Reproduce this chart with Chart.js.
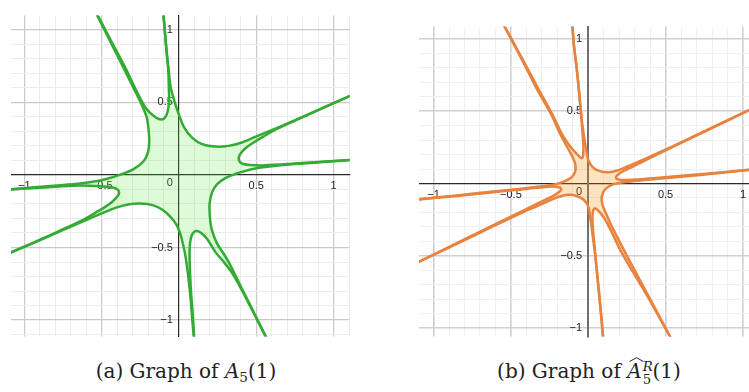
<!DOCTYPE html>
<html>
<head>
<meta charset="utf-8">
<script src="https://cdn.jsdelivr.net/npm/chart.js@4.4.1/dist/chart.umd.min.js"></script>
<style>
  html, body { margin: 0; padding: 0; background: #fff; }
  body { width: 749px; height: 392px; position: relative; overflow: hidden; }
  canvas { position: absolute; }
  #plotA { left: 11px; top: 4px; }
  #plotB { left: 419px; top: 15px; }
  .cap { position: absolute; top: 357px; height: 28px; line-height: 28px; text-align: center;
         font-family: "DejaVu Serif", serif; font-size: 20px; color: #222; white-space: nowrap; }
  #capA { left: 0; width: 372px; }
  #capB { left: 400px; width: 378px; }
  .cap sub { font-size: 0.68em; vertical-align: -0.3em; line-height: 0; }
  .hat { position: relative; display: inline-block; }
  .hat svg { position: absolute; left: 2px; top: 0px; }
  .ss { display: inline-block; vertical-align: -0.45em; font-size: 0.66em; line-height: 0.98; text-align: left; margin-left: 1px; }
  .ss span { display: block; }
</style>
</head>
<body>
<canvas id="plotA" width="341" height="344"></canvas>
<canvas id="plotB" width="330" height="333"></canvas>
<div class="cap" id="capA">(a) Graph of <i>A</i><sub>5</sub>(1)</div>
<div class="cap" id="capB">(b) Graph of <span class="hat"><i>A</i><svg width="15" height="5" viewBox="0 0 15 5"><polyline points="0.5,4.5 7.5,0.7 14.5,4.5" fill="none" stroke="#222" stroke-width="1"/></svg></span><span class="ss"><span><i>R</i></span><span>5</span></span>(1)</div>
<script>
// grid spacing and labelled ticks (both panels)
const gridStep = 0.1;
const labelTicks = [-1, -0.5, 0.5, 1];

// visible window of each panel
const rangeA = { x: [-1.087, 1.104], y: [-1.113, 1.098] };
const rangeB = { x: [-1.094, 1.039], y: [-1.058, 1.086] };

// --- panel (a): boundary pieces, listed in order around the region ---
const aUpperRight = [[-0.104,1.15],[-0.09,0.97],[-0.077,0.82],[-0.066,0.716],[-0.055,0.61],[-0.034,0.524],[-0.014,0.455],[0,0.415],[0.032,0.33],[0.086,0.255],[0.15,0.212],[0.236,0.195],[0.32,0.2],[0.407,0.223],[0.493,0.262],[0.643,0.328],[0.815,0.407],[0.997,0.493],[1.15,0.564]];
const aRightLoop = [[1.15,0.564],[0.95,0.47],[0.75,0.374],[0.62,0.31],[0.54,0.26],[0.48,0.222],[0.44,0.192],[0.41,0.162],[0.392,0.135],[0.386,0.112],[0.394,0.09],[0.415,0.075],[0.461,0.068],[0.557,0.066],[0.75,0.078],[0.95,0.092],[1.15,0.106]];
const aLowerRight = [[1.15,0.106],[0.95,0.09],[0.75,0.075],[0.6,0.06],[0.5,0.046],[0.43,0.028],[0.364,0.006],[0.3,-0.022],[0.247,-0.064],[0.214,-0.12],[0.198,-0.2],[0.2,-0.29],[0.212,-0.377],[0.245,-0.47],[0.29,-0.545],[0.33,-0.618],[0.41,-0.79],[0.49,-0.96],[0.583,-1.16]];
const aBottomLoop = [[0.583,-1.16],[0.49,-0.965],[0.4,-0.78],[0.34,-0.67],[0.29,-0.6],[0.236,-0.532],[0.182,-0.441],[0.139,-0.397],[0.11,-0.387],[0.088,-0.405],[0.076,-0.44],[0.069,-0.506],[0.07,-0.634],[0.078,-0.806],[0.09,-0.977],[0.1,-1.16]];
const aLowerLeft = [[0.1,-1.16],[0.086,-1.0],[0.075,-0.85],[0.06,-0.7],[0.042,-0.56],[0.022,-0.46],[0.008,-0.405],[0,-0.383],[-0.015,-0.345],[-0.054,-0.291],[-0.107,-0.24],[-0.171,-0.208],[-0.25,-0.197],[-0.32,-0.202],[-0.407,-0.225],[-0.493,-0.262],[-0.643,-0.33],[-0.815,-0.41],[-0.997,-0.494],[-1.15,-0.562]];
const aLeftLoop = [[-1.15,-0.562],[-0.98,-0.484],[-0.85,-0.424],[-0.75,-0.374],[-0.62,-0.31],[-0.54,-0.26],[-0.48,-0.222],[-0.44,-0.192],[-0.41,-0.162],[-0.392,-0.137],[-0.388,-0.118],[-0.398,-0.1],[-0.43,-0.087],[-0.508,-0.078],[-0.65,-0.073],[-0.872,-0.087],[-1.15,-0.104]];
const aUpperLeft = [[-1.15,-0.104],[-0.872,-0.08],[-0.658,-0.061],[-0.55,-0.046],[-0.465,-0.026],[-0.379,0.002],[-0.294,0.04],[-0.229,0.094],[-0.2,0.159],[-0.193,0.223],[-0.195,0.29],[-0.208,0.394],[-0.24,0.48],[-0.29,0.59],[-0.36,0.74],[-0.44,0.91],[-0.53,1.1],[-0.552,1.15]];
const aTopLoop = [[-0.552,1.15],[-0.525,1.097],[-0.432,0.909],[-0.347,0.737],[-0.279,0.587],[-0.214,0.459],[-0.15,0.396],[-0.107,0.383],[-0.08,0.415],[-0.068,0.47],[-0.064,0.523],[-0.066,0.61],[-0.069,0.716],[-0.078,0.82],[-0.09,0.97],[-0.104,1.15]];

// --- panel (b) ---
const bUpperRight = [[-0.106,1.14],[-0.092,0.95],[-0.075,0.8],[-0.058,0.62],[-0.044,0.46],[-0.03,0.345],[-0.019,0.27],[-0.009,0.21],[0,0.163],[0.03,0.112],[0.075,0.086],[0.129,0.078],[0.183,0.088],[0.25,0.116],[0.334,0.155],[0.42,0.196],[0.6,0.285],[0.85,0.412],[1.09,0.534]];
const bRightLoop = [[1.09,0.534],[0.85,0.41],[0.6,0.281],[0.42,0.187],[0.33,0.139],[0.269,0.108],[0.225,0.085],[0.198,0.066],[0.182,0.05],[0.181,0.036],[0.198,0.027],[0.25,0.025],[0.32,0.028],[0.42,0.036],[0.6,0.053],[0.85,0.076],[1.09,0.1]];
const bLowerRight = [[1.09,0.1],[0.85,0.072],[0.6,0.047],[0.42,0.029],[0.32,0.02],[0.248,0.012],[0.19,0.002],[0.151,-0.01],[0.12,-0.03],[0.1,-0.055],[0.088,-0.09],[0.088,-0.127],[0.1,-0.17],[0.12,-0.22],[0.145,-0.28],[0.18,-0.355],[0.24,-0.48],[0.3,-0.6],[0.4,-0.8],[0.555,-1.11]];
const bBottomLoop = [[0.555,-1.11],[0.41,-0.83],[0.33,-0.685],[0.26,-0.56],[0.205,-0.455],[0.16,-0.355],[0.118,-0.265],[0.09,-0.22],[0.065,-0.188],[0.045,-0.171],[0.033,-0.185],[0.028,-0.215],[0.028,-0.27],[0.034,-0.36],[0.045,-0.48],[0.06,-0.65],[0.078,-0.85],[0.1,-1.11]];
const bLowerLeft = [[0.1,-1.11],[0.078,-0.85],[0.058,-0.63],[0.042,-0.47],[0.028,-0.355],[0.018,-0.27],[0.009,-0.21],[0,-0.158],[-0.03,-0.112],[-0.075,-0.086],[-0.129,-0.078],[-0.183,-0.09],[-0.25,-0.118],[-0.334,-0.158],[-0.42,-0.197],[-0.6,-0.288],[-0.85,-0.418],[-1.15,-0.57]];
const bLeftLoop = [[-1.15,-0.57],[-0.85,-0.412],[-0.6,-0.281],[-0.42,-0.187],[-0.33,-0.139],[-0.269,-0.108],[-0.225,-0.085],[-0.198,-0.066],[-0.18,-0.05],[-0.176,-0.036],[-0.19,-0.026],[-0.23,-0.021],[-0.312,-0.028],[-0.42,-0.039],[-0.6,-0.058],[-0.85,-0.086],[-1.15,-0.115]];
const bUpperLeft = [[-1.15,-0.115],[-0.85,-0.082],[-0.6,-0.054],[-0.42,-0.034],[-0.312,-0.021],[-0.226,-0.008],[-0.162,0.011],[-0.118,0.034],[-0.092,0.065],[-0.082,0.1],[-0.086,0.142],[-0.1,0.18],[-0.122,0.225],[-0.15,0.28],[-0.183,0.346],[-0.24,0.48],[-0.335,0.66],[-0.43,0.86],[-0.568,1.14]];
const bTopLoop = [[-0.568,1.14],[-0.42,0.85],[-0.32,0.65],[-0.228,0.47],[-0.172,0.346],[-0.119,0.26],[-0.075,0.206],[-0.055,0.184],[-0.043,0.175],[-0.035,0.185],[-0.032,0.206],[-0.032,0.282],[-0.037,0.346],[-0.045,0.46],[-0.058,0.62],[-0.075,0.8],[-0.092,0.95],[-0.106,1.14]];

const curvesA = [aUpperRight, aRightLoop, aLowerRight, aBottomLoop, aLowerLeft, aLeftLoop, aUpperLeft, aTopLoop];
const curvesB = [bUpperRight, bRightLoop, bLowerRight, bBottomLoop, bLowerLeft, bLeftLoop, bUpperLeft, bTopLoop];

const toPts = arr => arr.map(p => ({ x: p[0], y: p[1] }));
const round1 = v => Math.round(v * 10) / 10;
const isHalf = v => Math.abs(v * 2 - Math.round(v * 2)) < 1e-9;
const tickText = v => (v < 0 ? '\u2212' : '') + Math.abs(v);

function makePlot(id, curves, range, style) {
  const sets = curves.map(c => ({
    data: toPts(c),
    showLine: true,
    fill: false,
    borderColor: style.line,
    borderWidth: 2.5,
    pointRadius: 0,
    tension: 0.3,
    capBezierPoints: false,
    order: 0
  }));
  // whole outline in one loop, only used for the shaded inside
  sets.push({
    data: toPts([].concat(...curves)),
    showLine: true,
    fill: 'shape',
    backgroundColor: style.fill,
    borderWidth: 0,
    pointRadius: 0,
    tension: 0.3,
    capBezierPoints: false,
    order: 5
  });

  const gridColor = c => {
    const v = round1(c.tick.value);
    if (v === 0) return 'rgba(0,0,0,0)';
    return isHalf(v) ? style.major : style.minor;
  };
  const gridWidth = c => (isHalf(round1(c.tick.value)) ? style.majorW : 1);
  const tickFont = { family: '"Liberation Sans", Arial, sans-serif', size: 11, lineHeight: 1.55 };

  return new Chart(document.getElementById(id), {
    type: 'scatter',
    data: { datasets: sets },
    options: {
      responsive: false,
      animation: false,
      devicePixelRatio: 1,
      layout: { padding: 0 },
      plugins: { legend: { display: false }, tooltip: { enabled: false } },
      scales: {
        x: {
          type: 'linear',
          min: range.x[0], max: range.x[1],
          position: { y: 0 },
          afterFit: s => { s.height = 0; },
          border: { display: true, color: style.xAxis, width: 1.2 },
          grid: { drawTicks: false, color: gridColor, lineWidth: gridWidth },
          ticks: {
            stepSize: gridStep, includeBounds: false, autoSkip: false, maxRotation: 0,
            padding: 3, color: '#222', font: tickFont,
            callback: v => { const r = round1(v); return labelTicks.includes(r) ? tickText(r) : ''; }
          }
        },
        y: {
          type: 'linear',
          min: range.y[0], max: range.y[1],
          position: { x: 0 },
          afterFit: s => { s.width = 0; },
          border: { display: true, color: style.yAxis, width: style.yAxisW },
          grid: { drawTicks: false, color: gridColor, lineWidth: gridWidth },
          ticks: {
            stepSize: gridStep, includeBounds: false, autoSkip: false,
            color: '#222', font: tickFont,
            callback: v => {
              const r = round1(v);
              if (r === 0) return ['', '0  '];
              return labelTicks.includes(r) ? tickText(r) + '  ' : '';
            }
          }
        }
      }
    }
  });
}

makePlot('plotA', curvesA, rangeA, {
  line: '#34ab34', fill: 'rgba(80,235,50,0.2)',
  major: '#c9c9c9', majorW: 1.2, minor: '#ececec',
  xAxis: '#2a2a2a', yAxis: '#2a2a2a', yAxisW: 1.2
});
makePlot('plotB', curvesB, rangeB, {
  line: '#e8833f', fill: 'rgba(247,143,0,0.25)',
  major: '#d0d0d0', majorW: 1.6, minor: '#efefef',
  xAxis: '#2a2a2a', yAxis: '#707070', yAxisW: 2
});
</script>
</body>
</html>
